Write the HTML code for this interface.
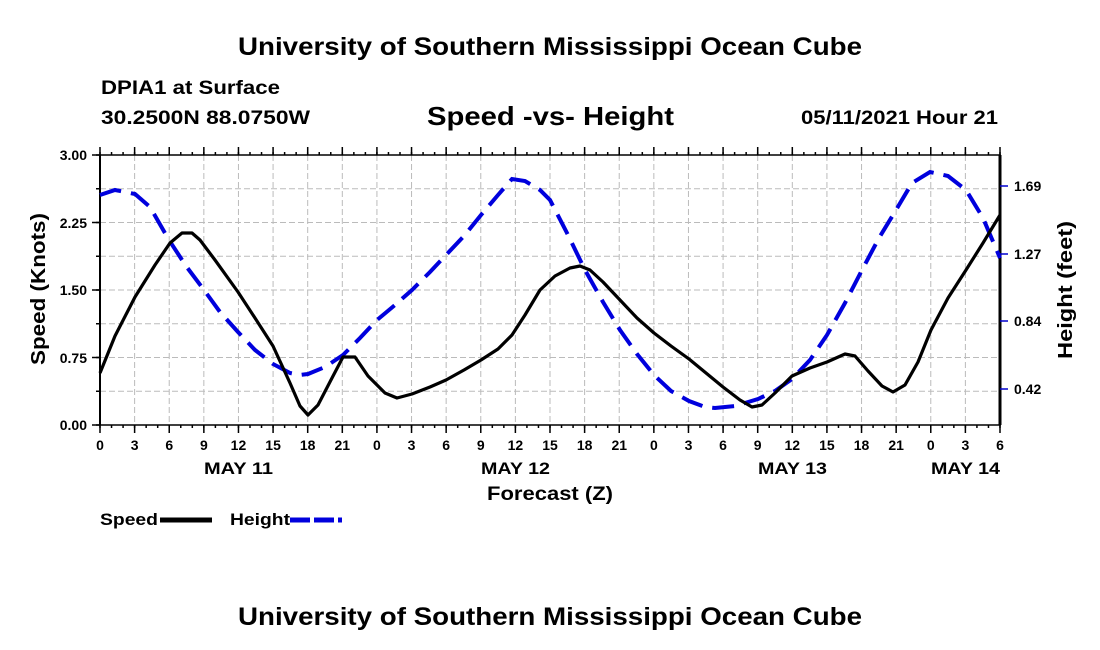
<!DOCTYPE html>
<html><head><style>body{margin:0;background:#fff}svg{display:block}text{font-family:"Liberation Sans",sans-serif;font-weight:bold;fill:#000}</style></head><body>
<svg width="1100" height="650" viewBox="0 0 1100 650">
<text x="238" y="55" font-size="25" textLength="624" lengthAdjust="spacingAndGlyphs">University of Southern Mississippi Ocean Cube</text>
<text x="101" y="94" font-size="19" textLength="179" lengthAdjust="spacingAndGlyphs">DPIA1 at Surface</text>
<text x="101" y="124" font-size="19" textLength="209" lengthAdjust="spacingAndGlyphs">30.2500N  88.0750W</text>
<text x="427" y="125" font-size="26" textLength="247" lengthAdjust="spacingAndGlyphs">Speed -vs- Height</text>
<text x="801" y="124" font-size="19" textLength="197" lengthAdjust="spacingAndGlyphs">05/11/2021 Hour 21</text>
<g stroke="#bbb" stroke-width="1" stroke-dasharray="6,3">
<line x1="100" y1="188.75" x2="1000" y2="188.75"/><line x1="100" y1="222.5" x2="1000" y2="222.5"/><line x1="100" y1="256.25" x2="1000" y2="256.25"/><line x1="100" y1="290" x2="1000" y2="290"/><line x1="100" y1="323.75" x2="1000" y2="323.75"/><line x1="100" y1="357.5" x2="1000" y2="357.5"/><line x1="100" y1="391.25" x2="1000" y2="391.25"/>
</g>
<g id="vg" stroke="#bbb" stroke-width="1" stroke-dasharray="6,3"></g>
<g id="ticks" stroke="#000" stroke-width="1.5"></g>
<g id="xl" font-size="14" text-anchor="middle"></g>
<rect x="100" y="155" width="900" height="270" fill="none" stroke="#000" stroke-width="1.5"/>
<line x1="100" y1="155" x2="100" y2="425" stroke="#000" stroke-width="2"/>
<line x1="1000" y1="155" x2="1000" y2="425" stroke="#000" stroke-width="3"/>
<g font-size="14" text-anchor="end">
<text x="87" y="160">3.00</text><text x="87" y="228">2.25</text><text x="87" y="295">1.50</text><text x="87" y="363">0.75</text><text x="87" y="430">0.00</text>
</g>
<g stroke="#000" stroke-width="1.5"><line x1="92" y1="155" x2="100" y2="155"/><line x1="92" y1="222.5" x2="100" y2="222.5"/><line x1="92" y1="290" x2="100" y2="290"/><line x1="92" y1="357.5" x2="100" y2="357.5"/><line x1="92" y1="425" x2="100" y2="425"/></g>
<g stroke="#00c" stroke-width="1.5"><line x1="1000" y1="186" x2="1008" y2="186"/><line x1="1000" y1="254" x2="1008" y2="254"/><line x1="1000" y1="321" x2="1008" y2="321"/><line x1="1000" y1="389" x2="1008" y2="389"/></g>
<g font-size="14"><text x="1014" y="191">1.69</text><text x="1014" y="259">1.27</text><text x="1014" y="326">0.84</text><text x="1014" y="394">0.42</text></g>
<text transform="translate(45,289) rotate(-90)" font-size="20" text-anchor="middle" textLength="152" lengthAdjust="spacingAndGlyphs">Speed (Knots)</text>
<text transform="translate(1072,290) rotate(-90)" font-size="20" text-anchor="middle" textLength="138" lengthAdjust="spacingAndGlyphs">Height (feet)</text>
<polyline fill="none" stroke="#00d" stroke-width="4" stroke-dasharray="22,10" points="100,195 115,190 135,194 150,207 169,240 186,266 204,290 220,312 238,332 255,350 273,364 290,373 300,375 308,374 325,367 343,355 360,338 377,320 395,305 412,290 430,272 446,255 464,236 481,215 498,195 512,179 525,181 540,190 550,200 567,233 585,270 603,302 620,330 637,354 654,375 671,391 689,401 705,407 715,408 735,406 758,399 775,391 792,379 810,360 827,335 845,303 862,270 879,238 896,210 912,183 930,172 948,176 966,190 983,218 1000,258"/>
<polyline fill="none" stroke="#000" stroke-width="3.2" stroke-linejoin="round" points="100,373 115,336 135,297 155,265 170,243 182,233 192,233 200,240 215,260 238,292 255,318 273,346 290,383 300,406 308,415 318,405 332,378 343,357 355,357 368,376 385,393 397,398 412,394 430,387 446,380 464,370 481,360 498,349 512,335 525,315 540,290 555,276 570,268 580,266 590,270 603,282 620,300 637,318 654,333 671,346 689,359 706,373 723,387 740,400 752,407 762,405 775,393 792,376 810,368 827,362 845,354 855,356 868,371 882,386 893,392 905,385 918,362 931,330 948,298 966,270 983,243 1000,215"/>
<g font-size="17"><text x="204" y="474" textLength="69" lengthAdjust="spacingAndGlyphs">MAY 12</text><text x="481" y="474" textLength="69" lengthAdjust="spacingAndGlyphs">MAY 12</text><text x="758" y="474" textLength="69" lengthAdjust="spacingAndGlyphs">MAY 13</text><text x="931" y="474" textLength="69" lengthAdjust="spacingAndGlyphs">MAY 14</text></g>
<text x="487" y="500" font-size="19" textLength="126" lengthAdjust="spacingAndGlyphs">Forecast (Z)</text>
<text x="100" y="525" font-size="17" textLength="58" lengthAdjust="spacingAndGlyphs">Speed</text>
<line x1="160" y1="520" x2="212" y2="520" stroke="#000" stroke-width="5"/>
<text x="230" y="525" font-size="17" textLength="60" lengthAdjust="spacingAndGlyphs">Height</text>
<line x1="290" y1="520" x2="342" y2="520" stroke="#00d" stroke-width="5" stroke-dasharray="20,4"/>
<text x="238" y="625" font-size="25" textLength="624" lengthAdjust="spacingAndGlyphs">University of Southern Mississippi Ocean Cube</text>
<script>
document.querySelector('g[font-size="17"] text').textContent='MAY 11';
var vg=document.getElementById('vg'),tk=document.getElementById('ticks'),xl=document.getElementById('xl'),ns='http://www.w3.org/2000/svg';
function el(p,t,a){var e=document.createElementNS(ns,t);for(var k in a)e.setAttribute(k,a[k]);p.appendChild(e);return e;}
for(var i=0;i<=26;i++){var x=100+i*900/26;if(i>0&&i<26)el(vg,'line',{x1:x,y1:155,x2:x,y2:425});
el(tk,'line',{x1:x,y1:425,x2:x,y2:433});el(tk,'line',{x1:x,y1:155,x2:x,y2:147});
var t=el(xl,'text',{x:x,y:450});t.textContent=((i*3)%24);}
for(var j=0;j<=78;j++){var x=100+j*900/78;el(tk,'line',{x1:x,y1:425,x2:x,y2:428});el(tk,'line',{x1:x,y1:155,x2:x,y2:152});}
for(var k=0;k<=8;k++){var y=155+k*33.75;el(tk,'line',{x1:96,y1:y,x2:100,y2:y});}
</script>
</svg>
</body></html>
